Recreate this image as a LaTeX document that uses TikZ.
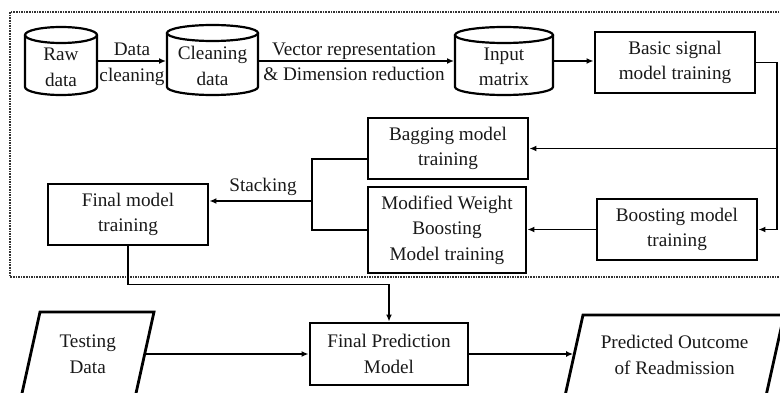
\documentclass[tikz,border=0pt]{standalone}
\usepackage{fontspec}
\setmainfont{Liberation Serif}
\usetikzlibrary{arrows.meta,calc}

\tikzset{
  txt/.style={font=\fontsize{19.2}{25.5}\selectfont, align=center, text=black!90},
  box/.style={txt, draw, line width=2.9pt, inner sep=0pt},
  port/.style={inner sep=0pt, outer sep=1pt},
  flow/.style={line width=1.5pt, -{Latex[length=7pt,width=6pt]}},
  link/.style={line width=1.5pt},
  drumline/.style={line width=2.2pt},
  slantline/.style={line width=2.8pt, line join=miter},
  frame/.style={line width=2.2pt, gray!40!black, dash pattern=on 1.6pt off 1pt},
}

% Database drum: #1 left, #2 right, #3 top, #4 bottom (page y, downward)
\newcommand\drum[4]{%
  \pgfmathsetmacro\drumrx{(#2-#1)/2}%
  \draw[drumline] (#1,-#3-8) -- (#1,-#4+8)
    arc[start angle=180, end angle=360, x radius=\drumrx pt, y radius=8pt]
    -- (#2,-#3-8);
  \draw[drumline] ({(#1+#2)/2},-#3-8) ellipse[x radius=\drumrx pt, y radius=8pt];
}

\begin{document}
\begin{tikzpicture}[x=1pt,y=1pt]
\useasboundingbox (0,0) rectangle (780,-393);

% training stage frame (open on the right)
\draw[frame] (795,-12) -- (10,-12) -- (10,-277) -- (795,-277);

% data stores
\drum{25}{97}{27}{95}
\drum{167}{258}{25}{95}
\drum{455}{553}{27}{95}
\node[port, minimum width=72pt, minimum height=68pt] (raw) at (61,-61) {};
\node[port, minimum width=91pt, minimum height=70pt] (clean) at (212.5,-60) {};
\node[port, minimum width=98pt, minimum height=68pt] (input) at (504,-61) {};
\node[txt] (rawtxt) at (61,-67.5) {Raw\\data};
\node[txt] (cleantxt) at (212.5,-66) {Cleaning\\data};
\node[txt] (inputtxt) at (504,-67) {Input\\matrix};

% process boxes
\node[box, minimum width=160pt, minimum height=61pt] (basic) at (675,-62.5) {Basic signal\\model training};
\node[box, minimum width=160pt, minimum height=61pt] (bag) at (448,-148.5) {Bagging model\\training};
\node[box, minimum width=158pt, minimum height=86pt] (mod) at (447,-230) {Modified Weight\\Boosting\\Model training};
\node[box, minimum width=160pt, minimum height=61pt] (boost) at (677,-229.5) {Boosting model\\training};
\node[box, minimum width=160pt, minimum height=61pt] (fm) at (128,-214.5) {Final model\\training};
\node[box, minimum width=158pt, minimum height=62pt] (fp) at (389,-354) {Final Prediction\\Model};

% input / output
\node[txt, inner sep=0pt, outer sep=0pt, minimum width=114pt, minimum height=84pt] (test) at (87.7,-354) {Testing\\Data};
\draw[slantline] ([xshift=9.3pt]test.north west) -- ([xshift=9.3pt]test.north east)
  -- ([xshift=-9.3pt]test.south east) -- ([xshift=-9.3pt]test.south west) -- cycle;
\node[txt, inner sep=0pt, outer sep=0pt, minimum width=201pt, minimum height=80pt] (out) at (674.6,-355) {Predicted Outcome\\of Readmission};
\draw[slantline] ([xshift=8.9pt]out.north west) -- ([xshift=8.9pt]out.north east)
  -- ([xshift=-8.9pt]out.south east) -- ([xshift=-8.9pt]out.south west) -- cycle;

% edge labels
\node[txt] (lclean) at (132,-64.5) {Data\\cleaning};
\node[txt] (lvec) at (354,-61.5) {Vector representation\\\& Dimension reduction};
\node[txt] (lstack) at (263,-187) {Stacking};

% connectors
\draw[flow] (raw.east) -- (raw.east -| clean.west);
\draw[flow] (clean.east |- input.west) -- (input.west);
\draw[flow] (input.east) -- (input.east -| basic.west);

\coordinate (rail) at (777,-62.5);
\draw[flow] (basic.east) -- (rail) |- (boost.east);
\draw[flow] (rail |- bag.east) -- (bag.east);
\draw[flow] (boost.west) -- (boost.west -| mod.east);

\coordinate (sk) at (312,-201);
\draw[link] ([yshift=-10.5pt]bag.west) -| (sk) |- (mod.west);
\draw[flow] (sk) -- (sk -| fm.east);

\draw[flow] (fm.south) -- ++(0,-38) -| (fp.north);
\draw[flow] (test.east) -- (test.east -| fp.west);
\draw[flow, shorten >=1pt] (fp.east) -- (fp.east -| out.west);
\end{tikzpicture}
\end{document}
